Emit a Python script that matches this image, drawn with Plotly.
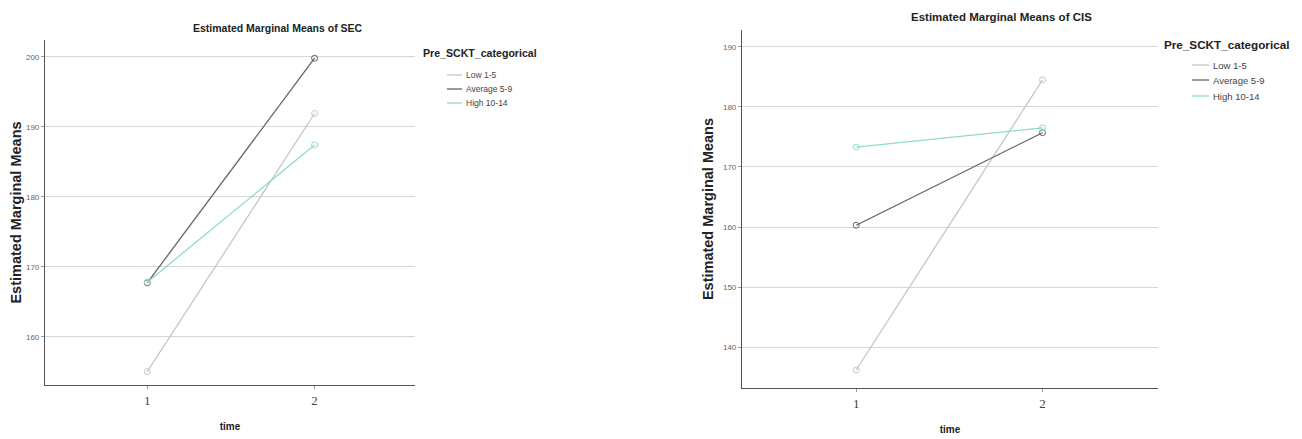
import plotly.graph_objects as go

time_points = [1, 2]
groups = ["Low 1-5", "Average 5-9", "High 10-14"]
sec_low = [155.0, 191.9]
sec_average = [167.7, 199.8]
sec_high = [167.8, 187.4]
cis_low = [136.2, 184.5]
cis_average = [160.3, 175.7]
cis_high = [173.3, 176.5]
sec_ticks = [160, 170, 180, 190, 200]
cis_ticks = [140, 150, 160, 170, 180, 190]
legend_title = "Pre_SCKT_categorical"

colors = {"Low 1-5": "#c6c6c6", "Average 5-9": "#6e5e60", "High 10-14": "#8fdcc6"}

fig = go.Figure()
sec = {"Low 1-5": sec_low, "Average 5-9": sec_average, "High 10-14": sec_high}
cis = {"Low 1-5": cis_low, "Average 5-9": cis_average, "High 10-14": cis_high}

for g in groups:
    fig.add_trace(go.Scatter(x=time_points, y=sec[g], name=g, mode="lines+markers",
                             line=dict(color=colors[g], width=1.3),
                             marker=dict(symbol="circle-open", size=6, color=colors[g]),
                             xaxis="x", yaxis="y", showlegend=False))
for g in groups:
    fig.add_trace(go.Scatter(x=time_points, y=cis[g], name=g, mode="lines+markers",
                             line=dict(color=colors[g], width=1.3),
                             marker=dict(symbol="circle-open", size=6, color=colors[g]),
                             xaxis="x2", yaxis="y2", showlegend=False))

# page body has an 8px default margin; positions below are screen pixels
OX, OY = 8, 8
W, H = 1294, 431
def px(x):
    return (x - OX) / W
def py(y):
    return 1 - (y - OY) / H
def dx(a, b):
    return [px(a), px(b)]
def dy(top, bottom):
    return [py(bottom), py(top)]

NARROW = "Liberation Sans Narrow, Arial Narrow, sans-serif"
axis_common = dict(showline=True, linecolor="#555555", linewidth=1.2, zeroline=False,
                   ticks="outside", ticklen=3, tickcolor="#999999", automargin=False)
xfont = dict(family="Liberation Serif, serif", size=13, color="#444444")
yfont = dict(family=NARROW, size=8, color="#666666")
ytitle = dict(text="<b>Estimated Marginal Means</b>", standoff=5,
              font=dict(family="Liberation Sans, Arial, sans-serif", size=14.5, color="#222222"))
xtitle = dict(text="<b>time</b>", standoff=16,
              font=dict(family=NARROW, size=10, color="#222222"))

annotations = [
    dict(text="<b>Estimated Marginal Means of SEC</b>", x=px(278), y=py(28),
         font=dict(family=NARROW, size=10.5, color="#222222"), xanchor="center"),
    dict(text="<b>Estimated Marginal Means of CIS</b>", x=px(1001), y=py(17),
         font=dict(family=NARROW, size=11.5, color="#222222"), xanchor="center"),
    dict(text="<b>" + legend_title + "</b>", x=px(421), y=py(53),
         font=dict(family=NARROW, size=10.6, color="#222222"), xanchor="left"),
    dict(text="<b>" + legend_title + "</b>", x=px(1162), y=py(44),
         font=dict(family=NARROW, size=11.7, color="#222222"), xanchor="left"),
]
shapes = []
left_items = [(75, groups[0]), (89, groups[1]), (103, groups[2])]
right_items = [(65, groups[0]), (80, groups[1]), (96, groups[2])]
for yy, g in left_items:
    annotations.append(dict(text=g, x=px(464), y=py(yy), xanchor="left",
                            font=dict(family=NARROW, size=8.5, color="#444444")))
    shapes.append(dict(type="line", xref="paper", yref="paper", x0=px(447), x1=px(462),
                       y0=py(yy), y1=py(yy), line=dict(color=colors[g], width=1.3)))
for yy, g in right_items:
    annotations.append(dict(text=g, x=px(1211), y=py(yy), xanchor="left",
                            font=dict(family=NARROW, size=9.5, color="#444444")))
    shapes.append(dict(type="line", xref="paper", yref="paper", x0=px(1192), x1=px(1209),
                       y0=py(yy), y1=py(yy), line=dict(color=colors[g], width=1.3)))
for a in annotations:
    a.update(xref="paper", yref="paper", showarrow=False, yanchor="middle")

fig.update_layout(
    width=W, height=H, margin=dict(l=0, r=0, t=0, b=0, autoexpand=False),
    paper_bgcolor="white", plot_bgcolor="white",
    xaxis=dict(domain=dx(45, 415), range=[0.389, 2.6], tickvals=time_points, showgrid=False,
               tickfont=xfont, title=xtitle, anchor="y", **axis_common),
    yaxis=dict(domain=dy(40, 385), range=[153.1, 202.4], tickvals=sec_ticks, showgrid=True,
               gridcolor="#d6d6d6", gridwidth=1.2, tickfont=yfont, title=ytitle, anchor="x",
               **axis_common),
    xaxis2=dict(domain=dx(742, 1158), range=[0.387, 2.62], tickvals=time_points, showgrid=False,
                tickfont=xfont, title=xtitle, anchor="y2", **axis_common),
    yaxis2=dict(domain=dy(30, 388), range=[133.2, 192.8], tickvals=cis_ticks, showgrid=True,
                gridcolor="#d6d6d6", gridwidth=1.2, tickfont=yfont, title=ytitle, anchor="x2",
                **axis_common),
    showlegend=False,
    annotations=annotations,
    shapes=shapes,
)

fig.write_html("out.html")
